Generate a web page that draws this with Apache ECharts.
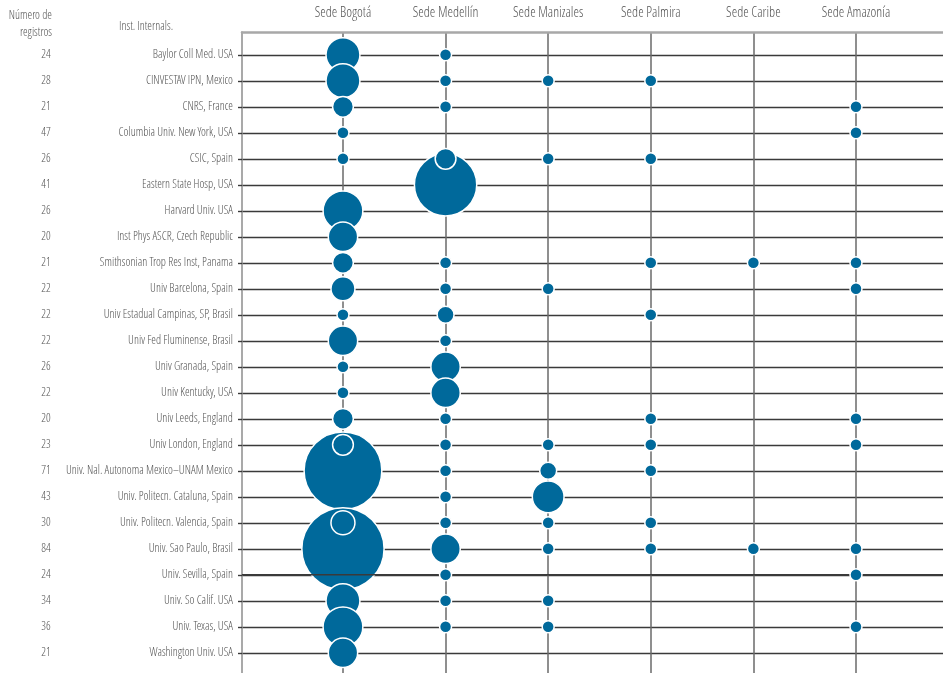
<!DOCTYPE html>
<html><head><meta charset="utf-8">
<script src="https://cdn.jsdelivr.net/npm/echarts@6/dist/echarts.min.js"></script>
<style>html,body{margin:0;padding:0;background:#fff}#c{width:943px;height:673px}</style>
</head><body><div id="c"></div>
<script>
const institutions = [
  'Baylor Coll Med. USA', 'CINVESTAV IPN, Mexico', 'CNRS, France', 'Columbia Univ. New York, USA',
  'CSIC, Spain', 'Eastern State Hosp, USA', 'Harvard Univ. USA', 'Inst Phys ASCR, Czech Republic',
  'Smithsonian Trop Res Inst, Panama', 'Univ Barcelona, Spain', 'Univ Estadual Campinas, SP, Brasil',
  'Univ Fed Fluminense, Brasil', 'Univ Granada, Spain', 'Univ Kentucky, USA', 'Univ Leeds, England',
  'Univ London, England', 'Univ. Nal. Autonoma Mexico–UNAM Mexico', 'Univ. Politecn. Cataluna, Spain',
  'Univ. Politecn. Valencia, Spain', 'Univ. Sao Paulo, Brasil', 'Univ. Sevilla, Spain',
  'Univ. So Calif. USA', 'Univ. Texas, USA', 'Washington Univ. USA'
];
const totals = [24, 28, 21, 47, 26, 41, 26, 20, 21, 22, 22, 22, 26, 22, 20, 23, 71, 43, 30, 84, 24, 34, 36, 21];
const campuses = ['Sede Bogotá', 'Sede Medellín', 'Sede Manizales', 'Sede Palmira', 'Sede Caribe', 'Sede Amazonía'];
// values per campus, one per institution (0 = none)
const bogota    = [8, 8, 3, 1, 1, 0, 11, 6, 3, 4, 1, 6, 1, 1, 3, 3, 42, 0, 4, 47, 0, 8, 11, 6];
const medellin  = [1, 1, 1, 0, 3, 27, 0, 0, 1, 1, 2, 1, 6, 6, 1, 1, 1, 1, 1, 6, 1, 1, 1, 0];
const manizales = [0, 1, 0, 0, 1, 0, 0, 0, 0, 1, 0, 0, 0, 0, 0, 1, 2, 7, 1, 1, 0, 1, 1, 0];
const palmira   = [0, 1, 0, 0, 1, 0, 0, 0, 1, 0, 1, 0, 0, 0, 1, 1, 1, 0, 1, 1, 0, 0, 0, 0];
const caribe    = [0, 0, 0, 0, 0, 0, 0, 0, 1, 0, 0, 0, 0, 0, 0, 0, 0, 0, 0, 1, 0, 0, 0, 0];
const amazonia  = [0, 0, 1, 1, 0, 0, 0, 0, 1, 1, 0, 0, 0, 0, 1, 1, 0, 0, 0, 1, 1, 0, 1, 0];

const campusValues = [bogota, medellin, manizales, palmira, caribe, amazonia];
const rowIdx = institutions.map((_, i) => i);
const colIdx = campuses.map((_, i) => i);

const xMin = -0.984, xMax = 5.848;
const yMin = -0.877, yMax = 23.777;

function points(rowFrom, rowTo) {
  const base = [], raised = [];
  for (let r = rowFrom; r < rowTo; r++) {
    colIdx.forEach(c => {
      const v = campusValues[c][r];
      if (!v) return;
      const next = r + 1 < institutions.length ? campusValues[c][r + 1] : 0;
      (next >= 5 * v ? raised : base).push([c, r, v]);
    });
  }
  return base.concat(raised);
}
const splitRow = institutions.indexOf('Univ. Sevilla, Spain');

const FONT = "'Open Sans Condensed Light', 'Open Sans Condensed', sans-serif";
const TXT = '#555';
const ROWLINE = '#3a3a3a';
const BLUE = '#00699b';

const bubbleStyle = { color: BLUE, borderColor: '#fff', borderWidth: 1.5, opacity: 1 };
const sizeFn = v => 12 * Math.sqrt(v[2]);
const hdr = (text, x, y, align) => ({
  type: 'text', x, y,
  style: { text, align, textAlign: align, verticalAlign: 'middle', textVerticalAlign: 'middle', fill: TXT, font: '11.8px ' + FONT }
});

const chart = echarts.init(document.getElementById('c'), null, { renderer: 'canvas' });
chart.setOption({
  animation: false,
  backgroundColor: '#fff',
  grid: { left: 242, right: 0, top: 32, bottom: 0, containLabel: false, outerBoundsMode: 'none' },
  xAxis: {
    type: 'value', position: 'top', min: xMin, max: xMax,
    axisLine: { show: true, onZero: false, lineStyle: { color: '#a8a8a8', width: 2.5 } },
    axisTick: { show: false, customValues: colIdx },
    axisLabel: { customValues: colIdx, formatter: v => campuses[v], color: TXT, fontSize: 14, fontFamily: FONT, margin: 12 },
    splitLine: { show: true, lineStyle: { color: '#6a6a6a', width: 1.5 } }
  },
  yAxis: [{
    type: 'value', inverse: true, min: yMin, max: yMax, position: 'left',
    axisLine: { show: true, onZero: false, lineStyle: { color: '#8c8c8c', width: 1.5 } },
    axisTick: { show: true, customValues: rowIdx, length: 4, lineStyle: { color: ROWLINE, width: 1.4 } },
    axisLabel: { customValues: rowIdx, formatter: v => institutions[v], color: TXT, fontSize: 11.8, fontFamily: FONT, margin: 9 },
    splitLine: { show: true, lineStyle: { color: ROWLINE, width: 1.4 } }
  }, {
    type: 'value', inverse: true, min: yMin, max: yMax, position: 'left',
    axisLine: { show: false, onZero: false }, axisTick: { show: false, customValues: rowIdx }, splitLine: { show: false },
    axisLabel: { customValues: rowIdx, formatter: v => String(totals[v]), color: TXT, fontSize: 11.8, fontFamily: FONT, margin: 196, align: 'center' }
  }],
  graphic: [
    hdr('Número de', 52, 16, 'right'),
    hdr('registros', 52, 33, 'right'),
    hdr('Inst. Internals.', 119, 27, 'left')
  ],
  series: [
    { type: 'scatter', z: 2, silent: true, data: points(0, splitRow), symbolSize: sizeFn, itemStyle: bubbleStyle, emphasis: { disabled: true } },
    { type: 'line', z: 3, silent: true, symbol: 'none', data: [[xMin, splitRow], [xMax, splitRow]], lineStyle: { color: ROWLINE, width: 1.4 } },
    { type: 'scatter', z: 4, silent: true, data: points(splitRow, institutions.length), symbolSize: sizeFn, itemStyle: bubbleStyle, emphasis: { disabled: true } }
  ]
});
</script>
</body></html>
